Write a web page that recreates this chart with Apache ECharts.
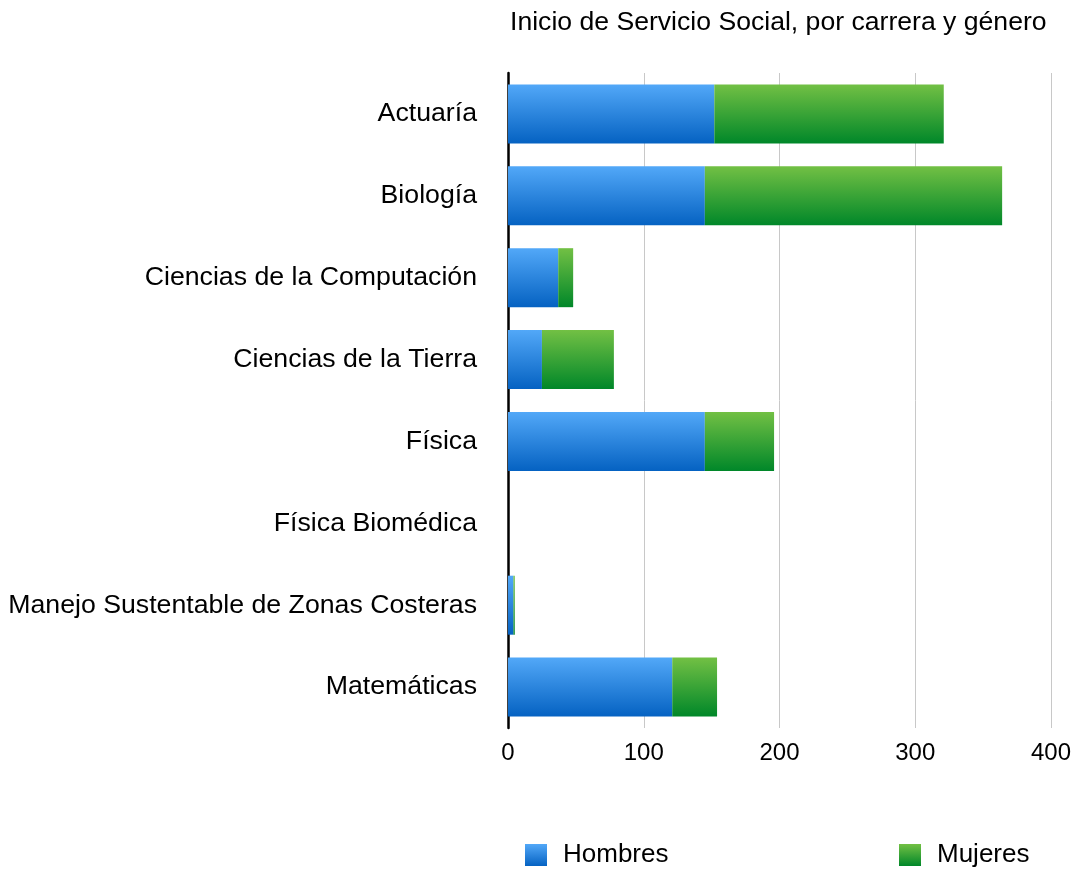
<!DOCTYPE html>
<html><head><meta charset="utf-8">
<script src="https://cdn.jsdelivr.net/npm/echarts@6/dist/echarts.min.js"></script>
<style>html,body{margin:0;padding:0;background:#fff}#c{width:1078px;height:869px}</style>
</head><body><div id="c"></div>
<script>
var categories = ["Actuaría","Biología","Ciencias de la Computación","Ciencias de la Tierra","Física","Física Biomédica","Manejo Sustentable de Zonas Costeras","Matemáticas"];
var hombres = [152,145,37,25,145,0,4,121];
var mujeres = [169,219,11,53,51,0,1,33];
var xTicks = [0,100,200,300,400];

var font = "Liberation Sans, Arial, Helvetica, sans-serif";
function grad(a,b){return new echarts.graphic.LinearGradient(0,0,0,1,[{offset:0,color:a},{offset:1,color:b}]);}
var chart = echarts.init(document.getElementById('c'));
chart.setOption({
  animation:false,
  title:{text:"Inicio de Servicio Social, por carrera y género",left:510,top:9,padding:0,
    textStyle:{fontFamily:font,fontSize:26.6,fontWeight:'normal',color:'#000'}},
  legend:[
    {data:["Hombres"],left:525,top:842,padding:0,itemWidth:22,itemHeight:22,itemGap:0,icon:'rect',
     textStyle:{fontFamily:font,fontSize:26,color:'#000',padding:[0,0,0,11]}},
    {data:["Mujeres"],left:899,top:842,padding:0,itemWidth:22,itemHeight:22,itemGap:0,icon:'rect',
     textStyle:{fontFamily:font,fontSize:26,color:'#000',padding:[0,0,0,11]}}
  ],
  grid:{left:508,right:27,top:73,bottom:141,containLabel:false},
  xAxis:{type:'value',min:0,max:400,interval:100,
    axisLine:{show:false},axisTick:{show:false},
    splitLine:{show:true,lineStyle:{color:'#c8c8c8',width:1}},
    axisLabel:{fontFamily:font,fontSize:24,color:'#000',margin:13,
      formatter:function(v){return xTicks.indexOf(v)>=0?String(v):'';}}},
  yAxis:{type:'category',data:categories,inverse:true,
    axisLine:{show:true,lineStyle:{color:'#000',width:2.5}},
    axisTick:{show:false},
    axisLabel:{fontFamily:font,fontSize:26.7,color:'#000',margin:31}},
  series:[
    {name:"Hombres",type:'bar',stack:'t',data:hombres,barWidth:59,
     itemStyle:{color:grad('#52a8f8','#0562c2')}},
    {name:"Mujeres",type:'bar',stack:'t',data:mujeres,barWidth:59,
     itemStyle:{color:grad('#72c044','#008729')}}
  ]
});
</script></body></html>
